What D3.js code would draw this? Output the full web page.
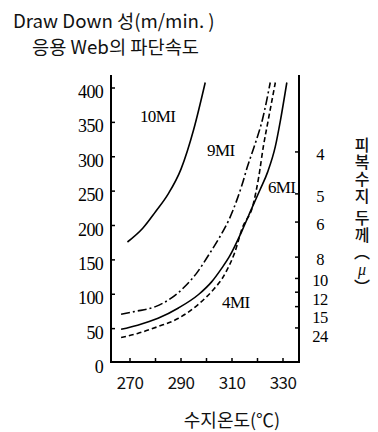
<!DOCTYPE html>
<html>
<head>
<meta charset="utf-8">
<script src="https://cdn.jsdelivr.net/npm/d3@7"></script>
<style>
  html, body { margin: 0; padding: 0; background: #fff; }
  svg { display: block; }
  .serif { font-family: "Liberation Serif", "DejaVu Serif", serif; }
  .sans { font-family: "Noto Sans CJK KR", "Noto Sans", sans-serif; }
  .vtitle { writing-mode: vertical-rl; text-orientation: mixed; }
  .upright { text-orientation: upright; }
</style>
</head>
<body>
<div id="chart"></div>
<script>
// Resin temperature (°C) vs. break speed (m/min) of the coated web, per melt index grade
const tickTemps = [270, 290, 310, 330];
const minorTemps = [270, 280, 290, 300, 310, 320, 330];
const rateTicks = [0, 50, 100, 150, 200, 250, 300, 350, 400];

const mi10Temp = [269, 275, 280, 285, 290, 295, 299.5];
const mi10Rate = [176, 196, 220, 246, 282, 340, 408];

const mi9Temp = [266.5, 272, 280, 286, 292, 296, 301, 305, 309, 312, 314, 316, 319, 322, 325];
const mi9Rate = [71, 75, 82, 94, 113, 130, 158, 182, 210, 238, 260, 285, 318, 355, 408];

const mi6Temp = [266.5, 273, 281, 289, 297, 302, 306, 309, 314, 318, 321, 324, 327, 329, 331.5];
const mi6Rate = [49, 55, 65, 80, 100, 118, 138, 155, 193, 227, 252, 278, 315, 353, 408];

const mi4Temp = [266.5, 273, 281, 289, 297, 303, 306, 308, 311, 314, 318.4, 320.5, 322.3, 324.2, 327];
const mi4Rate = [37, 43, 53, 65, 86, 108, 122, 135, 160, 196, 232, 271, 315, 353, 408];

// Coating thickness (μ) scale on the right and the draw-down speed each tick sits at
const thickLabels = ["4", "5", "6", "8", "10", "12", "15", "24"];
const thickAtRate = [307, 246, 205, 154, 123, 103, 82, 51];

const curveNames = ["10MI", "9MI", "6MI", "4MI"];
const curveLabelTemp = [273.9, 300.2, 324.1, 306.1];
const curveLabelRate = [350, 301, 247, 80];

const W = 378, H = 432;
const svg = d3.select("#chart").append("svg").attr("width", W).attr("height", H);

const x = d3.scaleLinear().domain([270, 330]).range([130, 283]);
const y = d3.scaleLinear().domain([0, 400]).range([363, 88]);

const frameLeft = 111, frameRight = 299, frameTop = 75, frameBottom = 362;

// Titles
svg.append("text").attr("class", "sans").attr("x", 13).attr("y", 28)
  .attr("font-size", 18.7).attr("fill", "#111")
  .text("Draw Down 성(m/min. )");
svg.append("text").attr("class", "sans").attr("x", 32).attr("y", 54)
  .attr("font-size", 18.7).attr("fill", "#111")
  .text("응용 Web의 파단속도");

// Axis frame: left, bottom, right
svg.append("path")
  .attr("d", `M${frameLeft},${frameTop}V${frameBottom}H${frameRight}V${frameTop}`)
  .attr("stroke", "#000").attr("stroke-width", 2).attr("fill", "none");

// Left axis ticks (inward) and labels
const yAxis = svg.append("g");
yAxis.selectAll("line").data(rateTicks.filter(d => d > 0)).join("line")
  .attr("x1", frameLeft).attr("x2", frameLeft + 4)
  .attr("y1", d => y(d)).attr("y2", d => y(d))
  .attr("stroke", "#000").attr("stroke-width", 1.5);
yAxis.selectAll("text").data(rateTicks).join("text")
  .attr("class", "serif")
  .attr("x", 103).attr("y", d => y(d) + 10)
  .attr("text-anchor", "end").attr("font-size", 18).attr("letter-spacing", -0.7)
  .attr("fill", "#000").text(d => d);

// Bottom axis ticks (inward) and labels
const xAxis = svg.append("g");
xAxis.selectAll("line").data(minorTemps).join("line")
  .attr("x1", d => x(d)).attr("x2", d => x(d))
  .attr("y1", frameBottom).attr("y2", frameBottom - 4)
  .attr("stroke", "#000").attr("stroke-width", 1.5);
xAxis.selectAll("text").data(tickTemps).join("text")
  .attr("class", "sans")
  .attr("x", d => x(d)).attr("y", 389)
  .attr("text-anchor", "middle").attr("font-size", 17).attr("letter-spacing", -0.6)
  .attr("fill", "#111").text(d => d);

// Right axis: coating thickness
const rAxis = svg.append("g");
rAxis.selectAll("line").data(thickAtRate).join("line")
  .attr("x1", frameRight).attr("x2", frameRight - 4)
  .attr("y1", d => y(d)).attr("y2", d => y(d))
  .attr("stroke", "#000").attr("stroke-width", 1.5);
// stack labels downward so crowded ones stay apart
let lastY = -Infinity;
const thickPos = thickAtRate.map(r => {
  const p = Math.max(y(r) + 2, lastY + 18.5);
  lastY = p;
  return p;
});
rAxis.selectAll("text").data(thickLabels).join("text")
  .attr("class", "serif")
  .attr("x", 320).attr("y", (d, i) => thickPos[i] + 6)
  .attr("text-anchor", "middle").attr("font-size", 16.5).attr("letter-spacing", -0.6)
  .attr("fill", "#000").text(d => d);

// Right title, set vertically
const vt = svg.append("text").attr("class", "sans vtitle")
  .attr("x", 362).attr("y", 137)
  .attr("font-size", 16).attr("font-weight", 500).attr("letter-spacing", 1)
  .attr("fill", "#111");
vt.append("tspan").text("피복수지 두께（");
vt.append("tspan").attr("class", "upright")
  .attr("font-family", "Liberation Serif, serif").attr("font-style", "italic")
  .text("μ");
vt.append("tspan").text("）");

// Bottom title
svg.append("text").attr("class", "sans").attr("x", 232).attr("y", 427)
  .attr("text-anchor", "middle").attr("font-size", 18).attr("fill", "#111")
  .text("수지온도(℃)");

// Curves
const line = d3.line().x(d => x(d[0])).y(d => y(d[1])).curve(d3.curveMonotoneX);
const curves = [
  { t: mi10Temp, r: mi10Rate, dash: null },
  { t: mi9Temp, r: mi9Rate, dash: "9,3,2,3" },
  { t: mi6Temp, r: mi6Rate, dash: null },
  { t: mi4Temp, r: mi4Rate, dash: "5,3" }
];
svg.append("g").selectAll("path").data(curves).join("path")
  .attr("d", c => line(c.t.map((t, i) => [t, c.r[i]])))
  .attr("fill", "none").attr("stroke", "#000").attr("stroke-width", 1.6)
  .attr("stroke-dasharray", c => c.dash);

// Curve labels
svg.append("g").selectAll("text").data(curveNames).join("text")
  .attr("class", "serif")
  .attr("x", (d, i) => x(curveLabelTemp[i])).attr("y", (d, i) => y(curveLabelRate[i]))
  .attr("font-size", 17).attr("letter-spacing", -0.6).attr("fill", "#000")
  .text(d => d);
</script>
</body>
</html>
